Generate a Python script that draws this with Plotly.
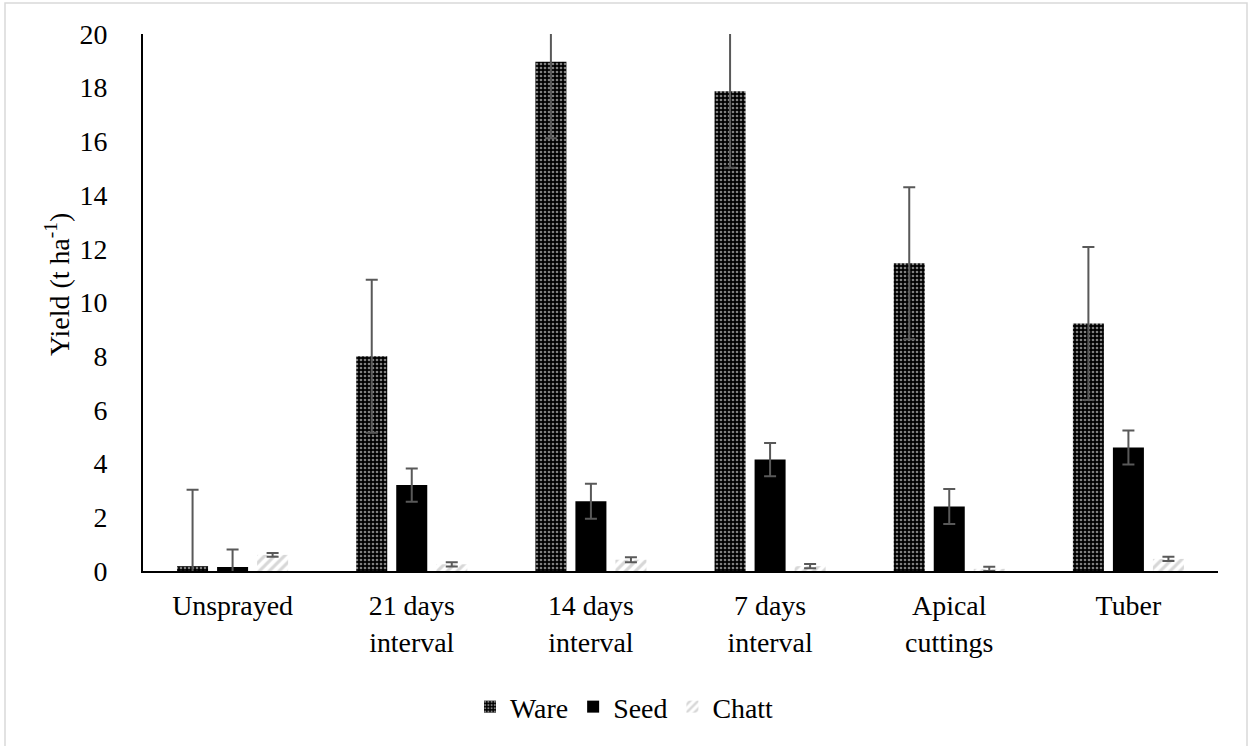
import plotly.graph_objects as go

categories = ["Unsprayed", "21 days<br>interval", "14 days<br>interval", "7 days<br>interval", "Apical<br>cuttings", "Tuber"]
ware = [0.18, 8.0, 18.97, 17.87, 11.46, 9.22]
ware_err = [2.85, 2.85, 2.85, 2.85, 2.83, 2.85]
seed = [0.15, 3.2, 2.6, 4.15, 2.4, 4.6]
seed_err = [0.65, 0.62, 0.65, 0.62, 0.65, 0.63]
chatt = [0.6, 0.25, 0.42, 0.18, 0.08, 0.45]
chatt_err = [0.07, 0.08, 0.09, 0.08, 0.08, 0.08]

FONT = "Liberation Serif"
FS = 27.9
ERRC = "#595959"

def err(vals):
    return dict(type="data", array=vals, visible=True, color=ERRC, thickness=2, width=6)

fig = go.Figure()
fig.add_trace(go.Bar(
    name="Ware", x=categories, y=ware, error_y=err(ware_err),
    marker=dict(color="black", line=dict(width=0),
                pattern=dict(shape=".", bgcolor="black", fgcolor="white", size=4, solidity=0.35)),
))
fig.add_trace(go.Bar(
    name="Seed", x=categories, y=seed, error_y=err(seed_err),
    marker=dict(color="black", line=dict(width=0)),
))
fig.add_trace(go.Bar(
    name="Chatt", x=categories, y=chatt, error_y=err(chatt_err),
    marker=dict(color="#bfbfbf", line=dict(width=0),
                pattern=dict(shape="/", bgcolor="white", fgcolor="#b0b0b0", size=7, solidity=0.45)),
))

fig.update_layout(
    width=1249, height=746,
    margin=dict(l=143, r=31, t=34, b=175),
    paper_bgcolor="white", plot_bgcolor="white",
    font=dict(family=FONT, size=FS, color="black"),
    barmode="group", bargap=0.33, bargroupgap=0.225,
    showlegend=True,
    legend=dict(orientation="h", x=0.5, xref="container", xanchor="center",
                y=1 - 707 / 746, yref="container", yanchor="middle",
                font=dict(family=FONT, size=FS, color="black"),
                itemwidth=30, tracegroupgap=0, itemclick=False),
    xaxis=dict(showline=True, linecolor="black", linewidth=2, ticks="",
               showgrid=False, zeroline=False, tickfont=dict(family=FONT, size=FS),
               ticklabelstandoff=9),
    yaxis=dict(range=[0, 20], dtick=2, showline=True, linecolor="black", linewidth=2,
               ticks="", showgrid=False, zeroline=False, tickfont=dict(family=FONT, size=FS),
               ticklabelstandoff=28),
    annotations=[dict(text="Yield (t ha<sup>-1</sup>)", textangle=-90,
                      xref="paper", yref="paper",
                      x=(57 - 143) / 1075, y=(571 - 285) / 537,
                      xanchor="center", yanchor="middle", showarrow=False,
                      font=dict(family=FONT, size=FS, color="black"))],
    shapes=[dict(type="rect", xref="paper", yref="paper",
                 x0=(5 - 143) / 1075, x1=(1247 - 143) / 1075,
                 y0=(571 - 750) / 537, y1=(571 - 3) / 537,
                 line=dict(color="#d9d9d9", width=1.5), fillcolor="rgba(0,0,0,0)",
                 layer="below")],
)

fig.write_html("out.html")
